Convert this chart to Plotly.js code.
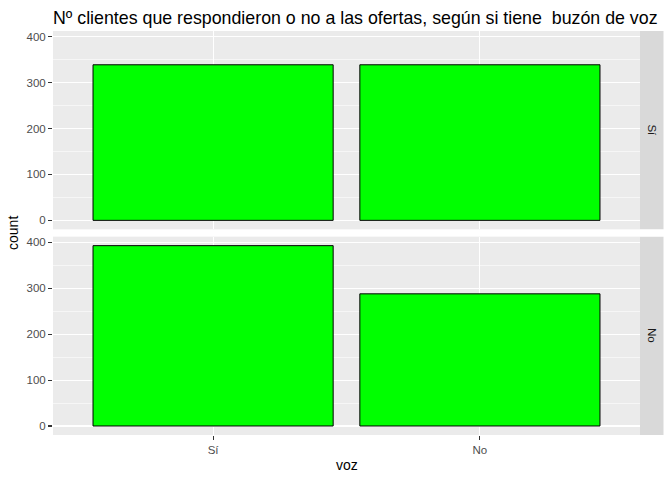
<!DOCTYPE html>
<html>
<head>
<meta charset="utf-8">
<script src="https://cdn.plot.ly/plotly-3.0.1.min.js"></script>
<style>html,body{margin:0;padding:0;background:#fff;}#chart{width:672px;height:480px;}</style>
</head>
<body>
<div id="chart"></div>
<script>
// Data
const voz = ['Sí', 'No'];
const facetLabels = ['Sí', 'No'];
const countFacetSi = [339, 339];
const countFacetNo = [393, 288];
const yTicks = [0, 100, 200, 300, 400];
const chartTitle = 'Nº clientes que respondieron o no a las ofertas, según si tiene  buzón de voz';

const font = 'Liberation Sans, Arial, sans-serif';
const yRange = [-19.65, 412.65];

const barStyle = {color: '#00FF00', line: {color: '#000000', width: 1}};

const traces = [
  {type: 'bar', x: voz, y: countFacetSi, marker: barStyle, width: 0.9, xaxis: 'x', yaxis: 'y', hoverinfo: 'x+y'},
  {type: 'bar', x: voz, y: countFacetNo, marker: barStyle, width: 0.9, xaxis: 'x2', yaxis: 'y2', hoverinfo: 'x+y'}
];

const topDom = [0.509, 1];
const botDom = [0, 0.491];

function yAxis(dom, anchor) {
  return {
    domain: dom, anchor: anchor, range: yRange, tickvals: yTicks, ticktext: yTicks.map(String),
    showgrid: true, gridcolor: '#FFFFFF', gridwidth: 1.1,
    minor: {tickvals: [50, 150, 250, 350], showgrid: true, gridcolor: '#FFFFFF', gridwidth: 0.55, ticks: ''},
    zeroline: false, showline: false,
    ticks: 'outside', ticklen: 4, tickwidth: 1.1, tickcolor: '#333333',
    tickfont: {family: font, size: 11.5, color: '#4D4D4D'}, fixedrange: true
  };
}
function xAxis(anchor, show) {
  return {
    domain: [0, 1], anchor: anchor, range: [-0.6, 1.6], type: 'category',
    showgrid: true, gridcolor: '#FFFFFF', gridwidth: 1.1, zeroline: false, showline: false,
    ticks: show ? 'outside' : '', ticklen: 4, tickwidth: 1.1, tickcolor: '#333333',
    showticklabels: show, tickfont: {family: font, size: 11.5, color: '#4D4D4D'}, fixedrange: true
  };
}

const layout = {
  width: 672, height: 480,
  margin: {l: 53.3, r: 32, t: 31, b: 44.5, pad: 0},
  paper_bgcolor: '#FFFFFF', plot_bgcolor: '#EBEBEB',
  showlegend: false, bargap: 0.1,
  font: {family: font, color: '#000000'},
  title: {text: chartTitle, font: {family: font, size: 17.8, color: '#000000'}, x: 0, xref: 'paper', xanchor: 'left', y: 0.963, yanchor: 'middle', yref: 'container'},
  xaxis: xAxis('y', false),
  yaxis: yAxis(topDom, 'x'),
  xaxis2: xAxis('y2', true),
  yaxis2: yAxis(botDom, 'x2'),
  shapes: [
    {type: 'rect', xref: 'paper', yref: 'paper', x0: 1, x1: 1 + 23.5/586.7, y0: topDom[0], y1: topDom[1], fillcolor: '#D9D9D9', line: {width: 0}, layer: 'below'},
    {type: 'rect', xref: 'paper', yref: 'paper', x0: 1, x1: 1 + 23.5/586.7, y0: botDom[0], y1: botDom[1], fillcolor: '#D9D9D9', line: {width: 0}, layer: 'below'}
  ],
  annotations: [
    {text: facetLabels[0], xref: 'paper', yref: 'paper', x: 1 + 11.75/586.7, y: (topDom[0] + topDom[1]) / 2, showarrow: false, textangle: 90, xanchor: 'center', yanchor: 'middle', font: {family: font, size: 11.5, color: '#1A1A1A'}},
    {text: facetLabels[1], xref: 'paper', yref: 'paper', x: 1 + 11.75/586.7, y: (botDom[0] + botDom[1]) / 2, showarrow: false, textangle: 90, xanchor: 'center', yanchor: 'middle', font: {family: font, size: 11.5, color: '#1A1A1A'}},
    {text: 'count', xref: 'paper', yref: 'paper', x: -40/586.7, y: 0.5, showarrow: false, textangle: -90, xanchor: 'center', yanchor: 'middle', font: {family: font, size: 14, color: '#000000'}},
    {text: 'voz', xref: 'paper', yref: 'paper', x: 0.5, y: -30/404.5, showarrow: false, xanchor: 'center', yanchor: 'middle', font: {family: font, size: 14, color: '#000000'}}
  ]
};

Plotly.newPlot('chart', traces, layout, {displayModeBar: false, staticPlot: true});
</script>
</body>
</html>
